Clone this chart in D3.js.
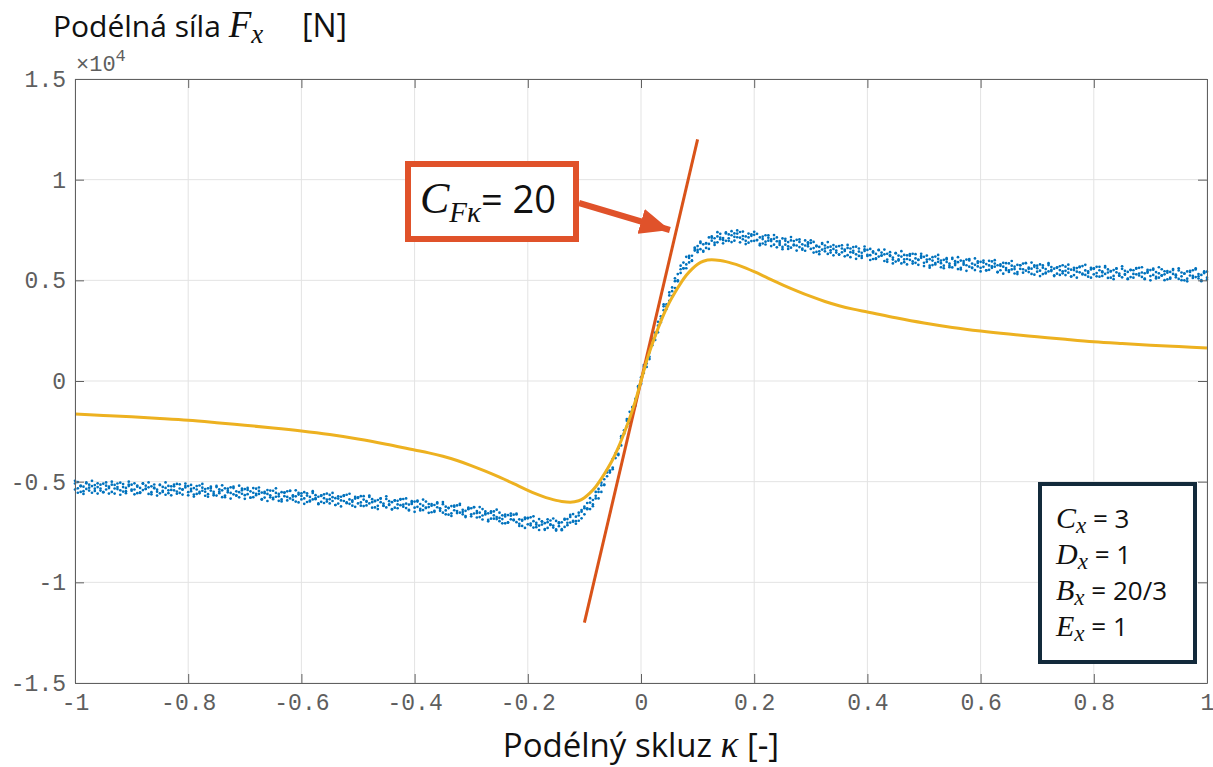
<!DOCTYPE html>
<html>
<head>
<meta charset="utf-8">
<script src="https://cdn.jsdelivr.net/npm/d3@7"></script>
<style>
    body { margin: 0; background: #fff; }
    text { font-family: "Open Sans", "Noto Sans", sans-serif; }
    .tick-label { font-family: "Liberation Mono", monospace; fill: #5e5e5e; }
</style>
</head>
<body>
<div id="chart"></div>
<script>
// naměřená data: [kappa, Fx vzorek A, Fx vzorek B]  (N)
const measured = [
    [-1.000,-5090,-5390],[-0.995,-5330,-5020],[-0.990,-5190,-5510],[-0.985,-5470,-5250],[-0.980,-5040,-5360],
    [-0.975,-5300,-5150],[-0.970,-5550,-5220],[-0.965,-5170,-5460],[-0.960,-5270,-5080],[-0.955,-5440,-5340],
    [-0.950,-5100,-5520],[-0.945,-5390,-5200],[-0.940,-5250,-5590],[-0.935,-5510,-5150],[-0.930,-5160,-5340],
    [-0.925,-5370,-5090],[-0.920,-5050,-5430],[-0.915,-5490,-5270],[-0.910,-5310,-5570],[-0.905,-5220,-5140],
    [-0.900,-5150,-5450],[-0.895,-5390,-5080],[-0.890,-5250,-5570],[-0.885,-5530,-5310],[-0.880,-5100,-5420],
    [-0.875,-5360,-5200],[-0.870,-5610,-5280],[-0.865,-5230,-5520],[-0.860,-5330,-5140],[-0.855,-5500,-5400],
    [-0.850,-5160,-5580],[-0.845,-5450,-5260],[-0.840,-5310,-5650],[-0.835,-5570,-5210],[-0.830,-5230,-5410],
    [-0.825,-5430,-5150],[-0.820,-5110,-5490],[-0.815,-5560,-5340],[-0.810,-5380,-5640],[-0.805,-5290,-5210],
    [-0.800,-5220,-5520],[-0.795,-5470,-5160],[-0.790,-5320,-5640],[-0.785,-5610,-5390],[-0.780,-5190,-5510],
    [-0.775,-5450,-5300],[-0.770,-5700,-5370],[-0.765,-5330,-5620],[-0.760,-5440,-5250],[-0.755,-5600,-5500],
    [-0.750,-5270,-5690],[-0.745,-5570,-5380],[-0.740,-5430,-5770],[-0.735,-5690,-5330],[-0.730,-5350,-5530],
    [-0.725,-5560,-5280],[-0.720,-5250,-5630],[-0.715,-5700,-5480],[-0.710,-5520,-5780],[-0.705,-5430,-5350],
    [-0.700,-5370,-5670],[-0.695,-5620,-5310],[-0.690,-5480,-5800],[-0.685,-5770,-5550],[-0.680,-5350,-5670],
    [-0.675,-5610,-5460],[-0.670,-5870,-5540],[-0.665,-5500,-5790],[-0.660,-5610,-5420],[-0.655,-5780,-5680],
    [-0.650,-5450,-5870],[-0.645,-5750,-5560],[-0.640,-5610,-5950],[-0.635,-5880,-5520],[-0.630,-5540,-5720],
    [-0.625,-5760,-5480],[-0.620,-5450,-5830],[-0.615,-5900,-5680],[-0.610,-5730,-5990],[-0.605,-5640,-5560],
    [-0.600,-5580,-5880],[-0.595,-5830,-5520],[-0.590,-5690,-6010],[-0.585,-5980,-5760],[-0.580,-5560,-5880],
    [-0.575,-5820,-5670],[-0.570,-6080,-5750],[-0.565,-5710,-6000],[-0.560,-5820,-5630],[-0.555,-5990,-5890],
    [-0.550,-5660,-6080],[-0.545,-5960,-5770],[-0.540,-5820,-6160],[-0.535,-6090,-5730],[-0.530,-5750,-5930],
    [-0.525,-5960,-5680],[-0.520,-5650,-6030],[-0.515,-6100,-5880],[-0.510,-5930,-6190],[-0.505,-5840,-5760],
    [-0.500,-5780,-6080],[-0.495,-6030,-5720],[-0.490,-5890,-6210],[-0.485,-6180,-5960],[-0.480,-5760,-6080],
    [-0.475,-6020,-5870],[-0.470,-6280,-5950],[-0.465,-5910,-6200],[-0.460,-6020,-5830],[-0.455,-6190,-6090],
    [-0.450,-5860,-6280],[-0.445,-6160,-5970],[-0.440,-6020,-6360],[-0.435,-6290,-5930],[-0.430,-5950,-6130],
    [-0.425,-6170,-5890],[-0.420,-5860,-6240],[-0.415,-6310,-6090],[-0.410,-6140,-6400],[-0.405,-6050,-5970],
    [-0.400,-5990,-6290],[-0.395,-6250,-5940],[-0.390,-6110,-6430],[-0.385,-6410,-6190],[-0.380,-5990,-6310],
    [-0.375,-6260,-6110],[-0.370,-6520,-6190],[-0.365,-6160,-6450],[-0.360,-6270,-6080],[-0.355,-6450,-6350],
    [-0.350,-6120,-6540],[-0.345,-6430,-6240],[-0.340,-6300,-6640],[-0.335,-6570,-6210],[-0.330,-6240,-6420],
    [-0.325,-6460,-6180],[-0.320,-6160,-6540],[-0.315,-6620,-6400],[-0.310,-6450,-6710],[-0.305,-6370,-6290],
    [-0.300,-6320,-6620],[-0.295,-6580,-6270],[-0.290,-6460,-6780],[-0.285,-6760,-6540],[-0.280,-6360,-6680],
    [-0.275,-6630,-6480],[-0.270,-6900,-6570],[-0.265,-6550,-6840],[-0.260,-6670,-6480],[-0.255,-6860,-6760],
    [-0.250,-6540,-6960],[-0.245,-6860,-6670],[-0.240,-6730,-7070],[-0.235,-7020,-6660],[-0.230,-6690,-6870],
    [-0.225,-6920,-6640],[-0.220,-6630,-7010],[-0.215,-7090,-6870],[-0.210,-6940,-7200],[-0.205,-6860,-6780],
    [-0.200,-6820,-7120],[-0.195,-7080,-6770],[-0.190,-6960,-7280],[-0.185,-7260,-7040],[-0.180,-6860,-7180],
    [-0.175,-7130,-6980],[-0.170,-7390,-7060],[-0.165,-7010,-7300],[-0.160,-7120,-6930],[-0.155,-7280,-7180],
    [-0.150,-6950,-7370],[-0.145,-7210,-7020],[-0.140,-7020,-7360],[-0.135,-7250,-6890],[-0.130,-6860,-7040],
    [-0.125,-7030,-6750],[-0.120,-6610,-6990],[-0.115,-6960,-6740],[-0.110,-6680,-6940],[-0.105,-6490,-6410],
    [-0.100,-6320,-6620],[-0.095,-6370,-6060],[-0.090,-6040,-6360],[-0.085,-6130,-5910],[-0.080,-5510,-5830],
    [-0.075,-5510,-5360],[-0.070,-5510,-5180],[-0.065,-4880,-5170],[-0.060,-4730,-4540],[-0.055,-4550,-4450],
    [-0.050,-3880,-4300],[-0.045,-3830,-3640],[-0.040,-3340,-3680],[-0.035,-3200,-2840],[-0.030,-2450,-2630],
    [-0.025,-2250,-1970],[-0.020,-1530,-1910],[-0.015,-1520,-1300],[-0.010,-890,-1150],[-0.005,-340,-260],
    [0.000,180,-120],
    [0.005,400,710],[0.010,1020,700],[0.015,1200,1420],[0.020,2090,1770],[0.025,2250,2400],
    [0.030,2420,2750],[0.035,3210,2920],[0.040,3520,3710],[0.045,3710,3810],[0.050,4400,3980],
    [0.055,4460,4650],[0.060,4960,4620],[0.065,4950,5310],[0.070,5550,5370],[0.075,5600,5880],
    [0.080,6170,5790],[0.085,5890,6110],[0.090,6220,5960],[0.095,6480,6560],[0.100,6700,6400],
    [0.105,6550,6860],[0.110,6790,6470],[0.115,6610,6830],[0.120,7130,6810],[0.125,6970,7120],
    [0.130,6760,7090],[0.135,7180,6890],[0.140,7120,7310],[0.145,7000,7100],[0.150,7380,6960],
    [0.155,7090,7280],[0.160,7240,6900],[0.165,6970,7330],[0.170,7320,7140],[0.175,7120,7400],
    [0.180,7420,7040],[0.185,6960,7180],[0.190,7130,6870],[0.195,7210,7290],[0.200,7260,6960],
    [0.205,7000,7310],[0.210,7130,6810],[0.215,6830,7050],[0.220,7240,6920],[0.225,6970,7120],
    [0.230,6700,7030],[0.235,7060,6770],[0.240,6940,7130],[0.245,6760,6860],[0.250,7080,6660],
    [0.255,6770,6960],[0.260,6900,6560],[0.265,6620,6980],[0.270,6950,6770],[0.275,6730,7010],
    [0.280,7030,6650],[0.285,6570,6790],[0.290,6730,6470],[0.295,6810,6890],[0.300,6860,6560],
    [0.305,6600,6910],[0.310,6730,6410],[0.315,6440,6660],[0.320,6850,6530],[0.325,6580,6730],
    [0.330,6310,6640],[0.335,6670,6380],[0.340,6560,6750],[0.345,6380,6480],[0.350,6700,6280],
    [0.355,6390,6580],[0.360,6530,6190],[0.365,6250,6610],[0.370,6580,6400],[0.375,6370,6650],
    [0.380,6670,6290],[0.385,6210,6430],[0.390,6370,6110],[0.395,6460,6540],[0.400,6510,6210],
    [0.405,6250,6560],[0.410,6380,6060],[0.415,6090,6310],[0.420,6500,6180],[0.425,6230,6380],
    [0.430,5960,6290],[0.435,6320,6030],[0.440,6210,6400],[0.445,6030,6130],[0.450,6350,5930],
    [0.455,6040,6230],[0.460,6180,5840],[0.465,5900,6260],[0.470,6240,6060],[0.475,6020,6300],
    [0.480,6320,5940],[0.485,5870,6090],[0.490,6030,5770],[0.495,6120,6200],[0.500,6170,5870],
    [0.505,5920,6230],[0.510,6050,5730],[0.515,5760,5980],[0.520,6180,5860],[0.525,5920,6070],
    [0.530,5650,5980],[0.535,6020,5730],[0.540,5910,6100],[0.545,5730,5830],[0.550,6060,5640],
    [0.555,5760,5950],[0.560,5900,5560],[0.565,5620,5980],[0.570,5960,5780],[0.575,5750,6030],
    [0.580,6060,5680],[0.585,5610,5830],[0.590,5770,5510],[0.595,5860,5940],[0.600,5920,5620],
    [0.605,5670,5980],[0.610,5810,5490],[0.615,5520,5740],[0.620,5940,5620],[0.625,5680,5830],
    [0.630,5420,5750],[0.635,5790,5500],[0.640,5680,5870],[0.645,5510,5610],[0.650,5840,5420],
    [0.655,5540,5730],[0.660,5680,5340],[0.665,5410,5770],[0.670,5750,5570],[0.675,5550,5830],
    [0.680,5860,5480],[0.685,5410,5630],[0.690,5580,5320],[0.695,5670,5750],[0.700,5730,5430],
    [0.705,5480,5790],[0.710,5630,5310],[0.715,5340,5560],[0.720,5760,5440],[0.725,5510,5660],
    [0.730,5250,5580],[0.735,5620,5330],[0.740,5510,5700],[0.745,5350,5450],[0.750,5680,5260],
    [0.755,5380,5570],[0.760,5530,5190],[0.765,5260,5620],[0.770,5610,5430],[0.775,5400,5680],
    [0.780,5710,5330],[0.785,5270,5490],[0.790,5440,5180],[0.795,5540,5620],[0.800,5600,5300],
    [0.805,5360,5670],[0.810,5500,5180],[0.815,5220,5440],[0.820,5640,5320],[0.825,5390,5540],
    [0.830,5130,5460],[0.835,5510,5220],[0.840,5400,5590],[0.845,5240,5340],[0.850,5570,5150],
    [0.855,5280,5470],[0.860,5420,5080],[0.865,5160,5520],[0.870,5500,5320],[0.875,5300,5580],
    [0.880,5620,5240],[0.885,5170,5390],[0.890,5350,5090],[0.895,5440,5520],[0.900,5510,5210],
    [0.905,5270,5580],[0.910,5410,5090],[0.915,5130,5350],[0.920,5550,5230],[0.925,5300,5450],
    [0.930,5050,5380],[0.935,5420,5130],[0.940,5320,5510],[0.945,5150,5250],[0.950,5490,5070],
    [0.955,5200,5390],[0.960,5340,5000],[0.965,5080,5440],[0.970,5420,5240],[0.975,5220,5500],
    [0.980,5540,5160],[0.985,5090,5310],[0.990,5270,5010],[0.995,5360,5440],[1.000,5430,5130]
];

// třetí vzorek ke každému řádku measured (stejné kappa)
const measuredC = [
    -4960,-5550,-5230,-5610,-5080,-5440,-4960,-5350,-5590,-5150,-5520,-5040,-5320,-5000,-5590,-5270,-5650,-5120,-5470,-5000,
    -5390,-5630,-5190,-5560,-5080,-5360,-5040,-5630,-5300,-5690,-5160,-5510,-5040,-5430,-5680,-5230,-5600,-5130,-5400,-5090,
    -5680,-5360,-5740,-5220,-5580,-5110,-5500,-5750,-5310,-5680,-5210,-5490,-5180,-5770,-5450,-5840,-5320,-5680,-5200,-5600,
    -5850,-5410,-5790,-5320,-5600,-5290,-5890,-5570,-5960,-5440,-5800,-5330,-5730,-5980,-5540,-5930,-5460,-5740,-5430,-6030,
    -5710,-6100,-5580,-5940,-5470,-5870,-6120,-5680,-6060,-5590,-5870,-5560,-6160,-5840,-6230,-5710,-6070,-5600,-6000,-6250,
    -5810,-6190,-5720,-6000,-5690,-6290,-5970,-6360,-5840,-6200,-5730,-6130,-6380,-5940,-6320,-5860,-6140,-5830,-6430,-6110,
    -6500,-5990,-6350,-5890,-6290,-6550,-6110,-6500,-6030,-6320,-6010,-6620,-6310,-6700,-6190,-6560,-6100,-6510,-6760,-6330,
    -6720,-6260,-6560,-6260,-6880,-6570,-6970,-6470,-6840,-6390,-6800,-7070,-6640,-7040,-6580,-6880,-6590,-7200,-6900,-7300,
    -6800,-7170,-6720,-7130,-7400,-6970,-7350,-6870,-7150,-6830,-7430,-7070,-7410,-6850,-7160,-6650,-6940,-7090,-6540,-6820,
    -6240,-6320,-5820,-6220,-5700,-5830,-5050,-5150,-4420,-4470,-4380,-3590,-3620,-2740,-2610,-1890,-2080,-1300,-1230,-250,
    -150,
    790,870,1090,2000,2040,2940,3080,3810,3570,4250,4220,5100,5000,5730,5590,5600,6210,5990,6630,6510,
    6920,6420,6850,6560,7180,6870,7390,7040,6840,7330,6960,7440,7160,7480,6890,7200,6800,7320,6950,7410,
    7000,6740,7170,6780,7240,6950,7250,6640,6950,6550,7060,6690,7150,6740,6480,6910,6520,6980,6690,6990,
    6380,6690,6300,6810,6440,6900,6490,6240,6670,6280,6740,6460,6760,6150,6470,6070,6580,6210,6680,6270,
    6010,6440,6060,6520,6230,6530,5920,6240,5840,6350,5980,6450,6040,5790,6220,5830,6300,6010,6320,5710,
    6030,5630,6150,5790,6260,5850,5600,6040,5650,6120,5840,6150,5540,5860,5470,5990,5630,6090,5690,5440,
    5880,5500,5970,5690,6000,5400,5720,5330,5850,5490,5960,5560,5310,5750,5380,5850,5570,5880,5280,5600,
    5210,5740,5380,5850,5460,5210,5650,5270,5750,5470,5780,5190,5510,5130,5650,5290,5770,5370,5130,5570,
    5200,5670,5400,5710,5120,5440,5060,5580,5230,5700,5310,5060,5510,5130,5610,5340,5650,5060,5380,5000,
    5530,5170,5650,5250,5010,5460,5080,5560,5280,5600,5010,5330,4950,5470,5120,5600,5200,4960,5400,5030
];

// model (Pacejka)
const modelKappa = [-1, -0.95, -0.9, -0.85, -0.8, -0.75, -0.7, -0.65, -0.6, -0.55, -0.5, -0.45, -0.4, -0.375,
    -0.35, -0.325, -0.3, -0.275, -0.25, -0.225, -0.2, -0.175, -0.15, -0.14, -0.125, -0.11, -0.1, -0.09, -0.08,
    -0.07, -0.06, -0.05, -0.04, -0.03, -0.02, -0.01, 0, 0.01, 0.02, 0.03, 0.04, 0.05, 0.06, 0.07, 0.08, 0.09,
    0.1, 0.11, 0.125, 0.14, 0.15, 0.175, 0.2, 0.225, 0.25, 0.275, 0.3, 0.325, 0.35, 0.375, 0.4, 0.45, 0.5, 0.55,
    0.6, 0.65, 0.7, 0.75, 0.8, 0.85, 0.9, 0.95, 1];
const modelFx = [-1640, -1710, -1780, -1860, -1950, -2070, -2200, -2330, -2480, -2660, -2880, -3140, -3430, -3570,
    -3740, -3950, -4200, -4480, -4780, -5100, -5430, -5720, -5930, -5980, -6020, -5950, -5800, -5560, -5250,
    -4850, -4400, -3900, -3300, -2600, -1850, -1000, 0, 1000, 1850, 2600, 3300, 3900, 4400, 4850, 5250, 5560,
    5800, 5950, 6020, 5980, 5930, 5720, 5430, 5100, 4780, 4480, 4200, 3950, 3740, 3570, 3430, 3140, 2880, 2660,
    2480, 2330, 2200, 2070, 1950, 1860, 1780, 1710, 1640];

// tečna v počátku
const tangentKappa = [-0.1, 0.1];
const tangentFx = [-12000, 12000];

const xTicks = [-1, -0.8, -0.6, -0.4, -0.2, 0, 0.2, 0.4, 0.6, 0.8, 1];
const xTickLabels = ["-1", "-0.8", "-0.6", "-0.4", "-0.2", "0", "0.2", "0.4", "0.6", "0.8", "1"];
const yTicks = [-15000, -10000, -5000, 0, 5000, 10000, 15000];
const yTickLabels = ["-1.5", "-1", "-0.5", "0", "0.5", "1", "1.5"];

const paramNames = ["C", "D", "B", "E"];
const paramValues = ["3", "1", "20/3", "1"];

const width = 1213;
const height = 767;
const plot = { left: 75, right: 1207, top: 79, bottom: 683 };

const svg = d3.select("#chart")
    .append("svg")
    .attr("width", width)
    .attr("height", height);

const x = d3.scaleLinear().domain([-1, 1]).range([plot.left, plot.right]);
const y = d3.scaleLinear().domain([-15000, 15000]).range([plot.bottom, plot.top]);

// mřížka
const grid = svg.append("g");
grid.selectAll("line.vx")
    .data(xTicks)
    .enter()
    .append("line")
    .attr("x1", d => x(d)).attr("x2", d => x(d))
    .attr("y1", plot.top).attr("y2", plot.bottom)
    .attr("stroke", "#e3e3e3")
    .attr("stroke-width", 1);
grid.selectAll("line.hy")
    .data(yTicks)
    .enter()
    .append("line")
    .attr("x1", plot.left).attr("x2", plot.right)
    .attr("y1", d => y(d)).attr("y2", d => y(d))
    .attr("stroke", "#e3e3e3")
    .attr("stroke-width", 1);

// naměřená data (body)
const points = [];
measured.forEach((r, i) => {
    points.push({ k: r[0], f: r[1] });
    points.push({ k: r[0], f: r[2] });
    points.push({ k: r[0], f: measuredC[i] });
});
svg.append("g")
    .selectAll("circle")
    .data(points)
    .enter()
    .append("circle")
    .attr("cx", d => x(d.k))
    .attr("cy", d => y(d.f))
    .attr("r", 1.35)
    .attr("fill", "#0072bd");

// tečna
const tangentData = tangentKappa.map((k, i) => ({ k, f: tangentFx[i] }));
svg.append("path")
    .datum(tangentData)
    .attr("fill", "none")
    .attr("stroke", "#d95319")
    .attr("stroke-width", 3)
    .attr("d", d3.line().x(d => x(d.k)).y(d => y(d.f)));

// model
const modelData = modelKappa.map((k, i) => ({ k, f: modelFx[i] }));
svg.append("path")
    .datum(modelData)
    .attr("fill", "none")
    .attr("stroke", "#edb120")
    .attr("stroke-width", 3)
    .attr("d", d3.line().x(d => x(d.k)).y(d => y(d.f)).curve(d3.curveMonotoneX));

// osy
const axisColor = "#606060";
const xAxis = svg.append("g")
    .attr("transform", `translate(0,${plot.bottom})`)
    .call(d3.axisBottom(x).tickValues(xTicks).tickSizeInner(-9).tickSizeOuter(0).tickPadding(9)
        .tickFormat((d, i) => xTickLabels[i]));
const yAxis = svg.append("g")
    .attr("transform", `translate(${plot.left},0)`)
    .call(d3.axisLeft(y).tickValues(yTicks).tickSizeInner(-9).tickSizeOuter(0).tickPadding(9)
        .tickFormat((d, i) => yTickLabels[i]));
svg.append("g")
    .attr("transform", `translate(0,${plot.top})`)
    .call(d3.axisTop(x).tickValues(xTicks).tickSizeInner(-9).tickSizeOuter(0).tickFormat(""));
svg.append("g")
    .attr("transform", `translate(${plot.right},0)`)
    .call(d3.axisRight(y).tickValues(yTicks).tickSizeInner(-9).tickSizeOuter(0).tickFormat(""));

svg.selectAll(".domain").attr("stroke", axisColor);
svg.selectAll(".tick line").attr("stroke", axisColor);
svg.selectAll(".tick text")
    .attr("class", "tick-label")
    .attr("font-size", 23)
    .attr("fill", "#5e5e5e");
xAxis.selectAll(".tick text").attr("dy", "0.8em");

// ×10^4
const mult = svg.append("text")
    .attr("class", "tick-label")
    .attr("x", plot.left + 1)
    .attr("y", 71)
    .attr("font-size", 22);
mult.append("tspan").text("×10");
mult.append("tspan").attr("dy", -10).attr("font-size", 17).text("4");

// popisky os
const yTitle = svg.append("text")
    .attr("x", 53)
    .attr("y", 37)
    .attr("font-size", 30)
    .attr("fill", "#111");
yTitle.append("tspan").text("Podélná síla ");
yTitle.append("tspan").attr("font-family", "Liberation Serif").attr("font-style", "italic").attr("font-size", 37).text("F");
yTitle.append("tspan").attr("font-family", "Liberation Serif").attr("font-style", "italic").attr("font-size", 27).attr("dy", 6).text("x");
yTitle.append("tspan").attr("x", 302).attr("dy", -6).attr("font-size", 32).text("[N]");

const xTitle = svg.append("text")
    .attr("x", x(0))
    .attr("y", 757)
    .attr("text-anchor", "middle")
    .attr("font-size", 33)
    .attr("fill", "#111");
xTitle.append("tspan").text("Podélný skluz ");
xTitle.append("tspan").attr("font-family", "Liberation Serif").attr("font-style", "italic").attr("font-size", 37).text("κ");
xTitle.append("tspan").text(" [-]");

// anotace C_Fκ
const annColor = "#e0522a";
const tip = { k: 0.051, f: 7500 };
svg.append("defs")
    .append("marker")
    .attr("id", "arrow")
    .attr("markerUnits", "userSpaceOnUse")
    .attr("viewBox", "0 0 30 26")
    .attr("refX", 30).attr("refY", 13)
    .attr("markerWidth", 30).attr("markerHeight", 26)
    .attr("orient", "auto")
    .append("path")
    .attr("d", "M0,0 L30,13 L0,26 Z")
    .attr("fill", annColor);
svg.append("line")
    .attr("x1", 579).attr("y1", 203)
    .attr("x2", x(tip.k)).attr("y2", y(tip.f))
    .attr("stroke", annColor)
    .attr("stroke-width", 6)
    .attr("marker-end", "url(#arrow)");
svg.append("rect")
    .attr("x", 408).attr("y", 164)
    .attr("width", 168).attr("height", 75)
    .attr("fill", "#fff")
    .attr("stroke", annColor)
    .attr("stroke-width", 6);
const ann = svg.append("text")
    .attr("x", 420)
    .attr("y", 213)
    .attr("font-size", 38)
    .attr("fill", "#111");
ann.append("tspan").attr("font-family", "Liberation Serif").attr("font-style", "italic").attr("font-size", 44).text("C");
ann.append("tspan").attr("font-family", "Liberation Serif").attr("font-style", "italic").attr("font-size", 29).attr("dy", 9).text("Fκ");
ann.append("tspan").attr("dy", -9).text("= 20");

// parametry
svg.append("rect")
    .attr("x", 1040).attr("y", 484)
    .attr("width", 155).attr("height", 178)
    .attr("fill", "#fff")
    .attr("stroke", "#132a3b")
    .attr("stroke-width", 4);
const paramText = svg.append("g");
paramNames.forEach((name, i) => {
    const t = paramText.append("text")
        .attr("x", 1056)
        .attr("y", 528 + i * 36)
        .attr("font-size", 26)
        .attr("fill", "#111");
    t.append("tspan").attr("font-family", "Liberation Serif").attr("font-style", "italic").attr("font-size", 30).text(name);
    t.append("tspan").attr("font-family", "Liberation Serif").attr("font-style", "italic").attr("font-size", 23).attr("dy", 5).text("x");
    t.append("tspan").attr("dy", -5).text(" = " + paramValues[i]);
});
</script>
</body>
</html>
